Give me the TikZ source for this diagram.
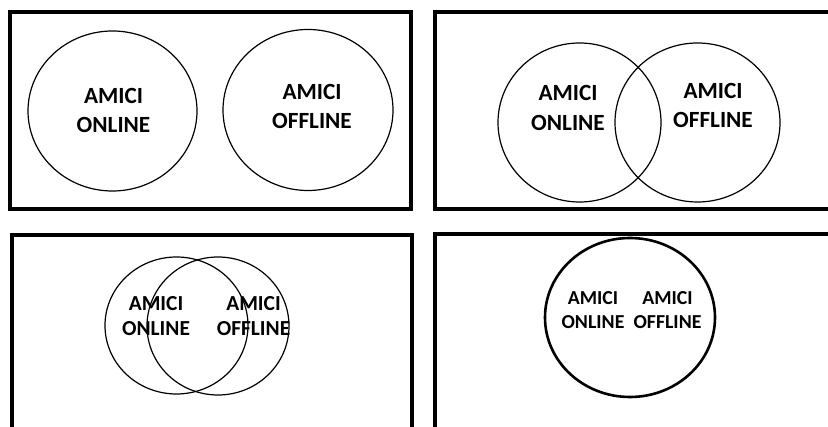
\documentclass[tikz,border=0pt]{standalone}
\usepackage{fontspec}
\setmainfont{Carlito}
\usetikzlibrary{shapes.geometric}
\begin{document}
\begin{tikzpicture}[x=1pt,y=-1pt,
  panel/.style={draw=black,line width=4pt},
  ring/.style={ellipse,draw=black,line width=1.2pt,inner sep=0pt},
  boldring/.style={ring,line width=2.6pt},
  lbl/.style 2 args={align=center,inner sep=0pt,font=\bfseries\fontsize{#1}{#2}\selectfont}]
  \useasboundingbox (0,0) rectangle (828,427);
  \clip (0,0) rectangle (828,427);
  \fill[white] (0,0) rectangle (828,427);

  % frames of the four panels
  \draw[panel] (9.5,12.5) rectangle (410.5,209.5);
  \draw[panel] (434.5,12.5) rectangle (840,209);
  \draw[panel] (11.5,235) rectangle (411.5,440);
  \draw[panel] (434.5,234.5) rectangle (840,440);

  % separate sets
  \node[ring,minimum width=169pt,minimum height=160pt] (a1) at (112.5,111) {};
  \node[ring,minimum width=170pt,minimum height=161pt] (b1) at (308,110) {};
  \node[lbl={23.2}{29}] (ta1) at (113.5,110) {AMICI\\ONLINE};
  \node[lbl={23.2}{29}] (tb1) at (312,106) {AMICI\\OFFLINE};

  % partial overlap
  \node[ring,minimum width=163pt,minimum height=159pt] (a2) at (579.5,122.5) {};
  \node[ring,minimum width=165pt,minimum height=159pt] (b2) at (697.5,122.5) {};
  \node[lbl={23.2}{29.5}] (ta2) at (568,108) {AMICI\\ONLINE};
  \node[lbl={23.2}{29.5}] (tb2) at (713,105.5) {AMICI\\OFFLINE};

  % large overlap
  \node[ring,minimum width=143pt,minimum height=137pt] (a3) at (176.5,325.5) {};
  \node[ring,minimum width=142pt,minimum height=138pt] (b3) at (218,326) {};
  \node[lbl={21.4}{25}] (ta3) at (156,316) {AMICI\\ONLINE};
  \node[lbl={21.4}{25}] (tb3) at (253.5,316) {AMICI\\OFFLINE};

  % coincident sets
  \node[boldring,minimum width=170pt,minimum height=159pt] (c4) at (630,317.5) {};
  \node[lbl={19.8}{24.5}] (ta4) at (593,310) {AMICI\\ONLINE};
  \node[lbl={19.8}{24.5}] (tb4) at (667.5,310) {AMICI\\OFFLINE};
\end{tikzpicture}
\end{document}
